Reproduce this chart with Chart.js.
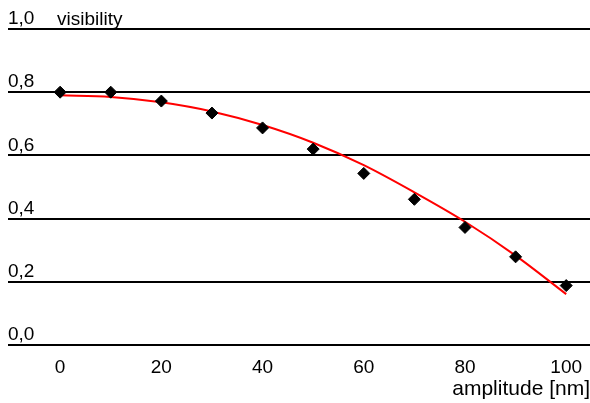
<!DOCTYPE html>
<html lang="en">

<head>
    <meta charset="UTF-8">
    <title>visibility</title>
    <script src="https://cdn.jsdelivr.net/npm/chart.js"></script>
    <style>
        html, body { margin: 0; padding: 0; background: #fff; overflow: hidden; }
        canvas { display: block; }
    </style>
</head>

<body>
    <canvas id="grafico" width="590" height="403"></canvas>

<script>
    // measured points
    var amplitude = [0, 10, 20, 30, 40, 50, 60, 70, 80, 90, 100];
    var visibilidade = [0.80, 0.80, 0.772, 0.734, 0.687, 0.620, 0.543, 0.461, 0.372, 0.279, 0.188];

    // fitted curve (red)
    var ajusteX = [0, 10, 20, 30, 40, 50, 60, 70, 80, 90, 100];
    var ajusteY = [0.790, 0.785, 0.768, 0.739, 0.696, 0.640, 0.569, 0.483, 0.390, 0.283, 0.161];

    var ticksX = [0, 20, 40, 60, 80, 100];
    var ticksY = [0, 0.2, 0.4, 0.6, 0.8, 1.0];

    var fonte = "'Liberation Sans', Arial, sans-serif";

    var pontos = amplitude.map(function (a, i) { return { x: a, y: visibilidade[i] }; });
    var curva = ajusteX.map(function (a, i) { return { x: a, y: ajusteY[i] }; });

    // "visibility" label next to the top tick
    var rotuloY = {
        id: 'rotuloY',
        afterDraw: function (chart) {
            var c = chart.ctx;
            var y = chart.scales.y.getPixelForValue(1.0) - 9;
            c.save();
            c.font = "19px " + fonte;
            c.fillStyle = '#000';
            c.textAlign = 'left';
            c.textBaseline = 'middle';
            c.fillText('visibility', chart.chartArea.left + 49, y);
            c.restore();
        }
    };

    var ctx = document.getElementById('grafico');

    new Chart(ctx, {
        type: 'scatter',
        data: {
            datasets: [{
                label: 'medido',
                data: pontos,
                pointStyle: 'rectRot',
                pointRadius: 6,
                backgroundColor: '#000',
                borderColor: '#000',
                borderWidth: 1
            }, {
                label: 'ajuste',
                data: curva,
                showLine: true,
                pointRadius: 0,
                borderColor: '#ff0000',
                borderWidth: 2,
                cubicInterpolationMode: 'monotone'
            }]
        },
        options: {
            responsive: false,
            animation: false,
            layout: {
                autoPadding: false,
                padding: { left: 8, right: 0, top: 29, bottom: 0 }
            },
            plugins: {
                legend: { display: false },
                tooltip: { enabled: false }
            },
            scales: {
                x: {
                    type: 'linear',
                    min: -10.3,
                    max: 104.7,
                    afterBuildTicks: function (scale) {
                        scale.ticks = ticksX.map(function (v) { return { value: v }; });
                    },
                    afterFit: function (scale) {
                        scale.paddingLeft = 0;
                        scale.paddingRight = 0;
                        scale.height = 58;
                    },
                    grid: { display: false, drawTicks: false },
                    border: { display: false },
                    ticks: {
                        color: '#000',
                        padding: 11,
                        font: { size: 19, family: fonte }
                    },
                    title: {
                        display: true,
                        text: 'amplitude [nm]',
                        align: 'end',
                        color: '#000',
                        padding: { top: 0, bottom: 1 },
                        font: { size: 21, family: fonte }
                    }
                },
                y: {
                    min: 0,
                    max: 1,
                    afterBuildTicks: function (scale) {
                        scale.ticks = ticksY.map(function (v) { return { value: v }; });
                    },
                    afterFit: function (scale) {
                        scale.paddingTop = 0;
                        scale.paddingBottom = 0;
                    },
                    grid: { color: '#000', lineWidth: 2, drawTicks: false },
                    border: { display: false },
                    ticks: {
                        mirror: true,
                        padding: 0,
                        labelOffset: -10,
                        color: '#000',
                        font: { size: 19, family: fonte },
                        callback: function (v) { return v.toFixed(1).replace('.', ','); }
                    }
                }
            }
        },
        plugins: [rotuloY]
    });
</script>
</body>

</html>
